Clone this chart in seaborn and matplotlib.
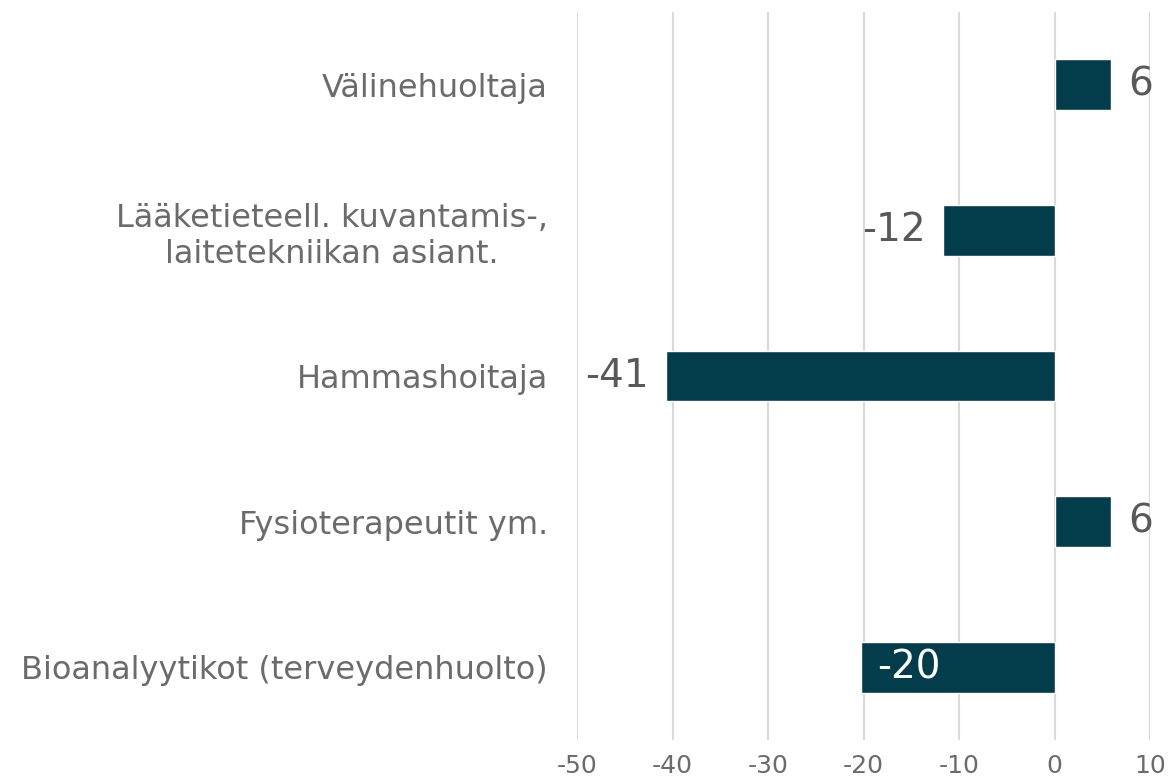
import pandas as pd
import matplotlib
matplotlib.use("Agg")
import matplotlib.pyplot as plt
import seaborn as sns

# Tiedot (luettu kuvasta)
ammatit = [
    "Välinehuoltaja",
    "Lääketieteell. kuvantamis-,\nlaitetekniikan asiant.",
    "Hammashoitaja",
    "Fysioterapeutit ym.",
    "Bioanalyytikot (terveydenhuolto)",
]
muutos = [5.9, -11.7, -40.7, 5.9, -20.3]
x_ticks = [-50, -40, -30, -20, -10, 0, 10]

BAR_COLOR = "#033d4b"
TEXT_COLOR = "#6b6b6b"
LABEL_COLOR = "#595959"

sns.set_theme(style="white")
plt.rcParams["font.family"] = ["DejaVu Sans"]
plt.rcParams["axes.unicode_minus"] = False

df = pd.DataFrame({"ammatti": ammatit, "muutos": muutos})

fig = plt.figure(figsize=(11.7, 7.82), dpi=100)
ax = fig.add_axes([0.4932, 0.0537, 0.4897, 0.931])

sns.barplot(data=df, y="ammatti", x="muutos", orient="h", color=BAR_COLOR,
            saturation=1, width=0.35, ax=ax)

ax.set_xlim(-50, 10)
ax.set_xticks(x_ticks)
ax.xaxis.grid(True, color="#d9d9d9", linewidth=1.5)
ax.set_axisbelow(True)
for s in ax.spines.values():
    s.set_visible(False)
ax.set_xlabel("")
ax.set_ylabel("")
ax.tick_params(axis="x", labelsize=18, colors=TEXT_COLOR, length=0, pad=10)
ax.tick_params(axis="y", labelsize=23, colors=TEXT_COLOR, length=0, pad=21)
for lbl in ax.get_yticklabels():
    lbl.set_multialignment("center")

# Arvojen tekstit
for i, v in enumerate(muutos):
    txt = f"{v:.0f}"
    if v < -15 and v > -30:
        ax.text(v + 1.7, i, txt, va="center", ha="left", fontsize=28, color="white")
    elif v < 0:
        ax.text(v - 1.8, i, txt, va="center", ha="right", fontsize=28, color=LABEL_COLOR)
    else:
        ax.text(v + 1.8, i, txt, va="center", ha="left", fontsize=28, color=LABEL_COLOR)

fig.savefig("out.png", dpi=100)
